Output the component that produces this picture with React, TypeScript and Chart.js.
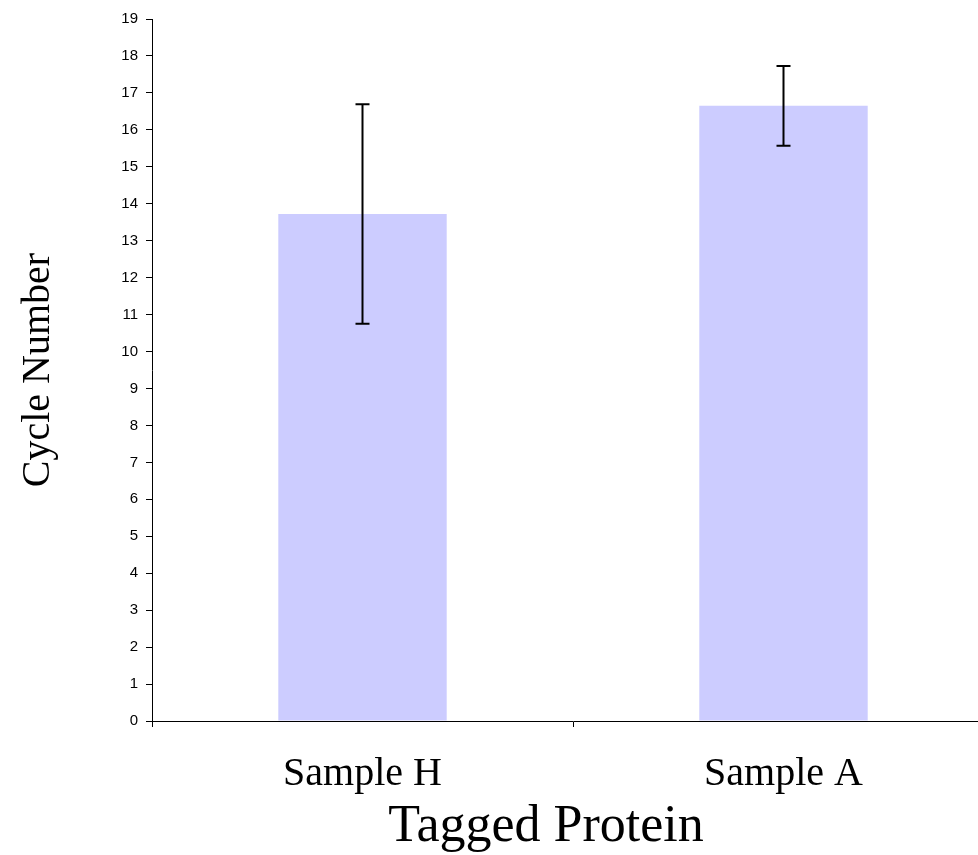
import React, { useEffect, useRef } from "react";
import { Chart, registerables } from "chart.js";

Chart.register(...registerables);

const categories = ["Sample H", "Sample A"];
const meanValues = [13.72, 16.65];
const errorValues = [2.97, 1.08];
const yMin = 0;
const yMax = 19;
const yStep = 1;
const xTitle = "Tagged Protein";
const yTitle = "Cycle Number";

const errorBarPlugin = {
  id: "errorBars",
  afterDatasetsDraw(chart: any) {
    const meta = chart.getDatasetMeta(0);
    const yScale = chart.scales.y;
    const ctx = chart.ctx;
    ctx.save();
    ctx.strokeStyle = "#000000";
    ctx.lineWidth = 2;
    meta.data.forEach((bar: any, i: number) => {
      const x = bar.x;
      const top = yScale.getPixelForValue(meanValues[i] + errorValues[i]);
      const bot = yScale.getPixelForValue(meanValues[i] - errorValues[i]);
      ctx.beginPath();
      ctx.moveTo(x, top);
      ctx.lineTo(x, bot);
      ctx.moveTo(x - 7, top);
      ctx.lineTo(x + 7, top);
      ctx.moveTo(x - 7, bot);
      ctx.lineTo(x + 7, bot);
      ctx.stroke();
    });
    ctx.restore();
  },
};

const xTitlePlugin = {
  id: "xTitle",
  afterDraw(chart: any) {
    const xs = chart.scales.x;
    const ctx = chart.ctx;
    ctx.save();
    ctx.fillStyle = "#000000";
    ctx.font = "52px 'Liberation Serif', serif";
    ctx.textAlign = "center";
    ctx.textBaseline = "alphabetic";
    const cx = xs.left + (xs.right - xs.left) * 0.468;
    ctx.fillText(xTitle, cx, xs.bottom - 14);
    ctx.restore();
  },
};

export default function App() {
  const ref = useRef<HTMLCanvasElement | null>(null);
  useEffect(() => {
    if (!ref.current) return;
    const chart = new Chart(ref.current, {
      type: "bar",
      data: {
        labels: categories,
        datasets: [
          {
            data: meanValues,
            backgroundColor: "#CCCCFF",
            borderWidth: 0,
            barPercentage: 0.4,
            categoryPercentage: 1,
          },
        ],
      },
      plugins: [errorBarPlugin, xTitlePlugin],
      options: {
        animation: false,
        responsive: true,
        maintainAspectRatio: false,
        layout: { padding: { top: 19, right: 0, bottom: 0, left: 0 } },
        plugins: {
          legend: { display: false },
          tooltip: { enabled: false },
        },
        scales: {
          x: {
            grid: {
              display: true,
              drawOnChartArea: false,
              drawTicks: true,
              tickLength: 6,
              color: "#000000",
              offset: true,
            },
            border: { display: true, color: "#000000", width: 1 },
            ticks: {
              color: "#000000",
              font: { family: "'Liberation Serif', serif", size: 40 },
              padding: 23,
              maxRotation: 0,
              autoSkip: false,
            },
            afterFit(scale: any) {
              scale.height = 134;
            },
          },
          y: {
            min: yMin,
            max: yMax,
            grid: {
              display: true,
              drawOnChartArea: false,
              drawTicks: true,
              tickLength: 6,
              color: "#000000",
            },
            border: { display: true, color: "#000000", width: 1 },
            ticks: {
              stepSize: yStep,
              color: "#000000",
              font: { family: "'Liberation Sans', Arial, sans-serif", size: 15 },
              padding: 8,
            },
            title: {
              display: true,
              text: yTitle,
              color: "#000000",
              font: { family: "'Liberation Serif', serif", size: 40 },
              padding: { top: 14, bottom: 0 },
            },
            afterFit(scale: any) {
              scale.width = 152;
            },
          },
        },
      },
    });
    return () => chart.destroy();
  }, []);
  return (
    <div style={{ position: "absolute", left: 0, top: 0, width: 978, height: 855, overflow: "hidden" }}>
      <div style={{ position: "relative", width: 994, height: 855 }}>
        <canvas ref={ref} />
      </div>
    </div>
  );
}
